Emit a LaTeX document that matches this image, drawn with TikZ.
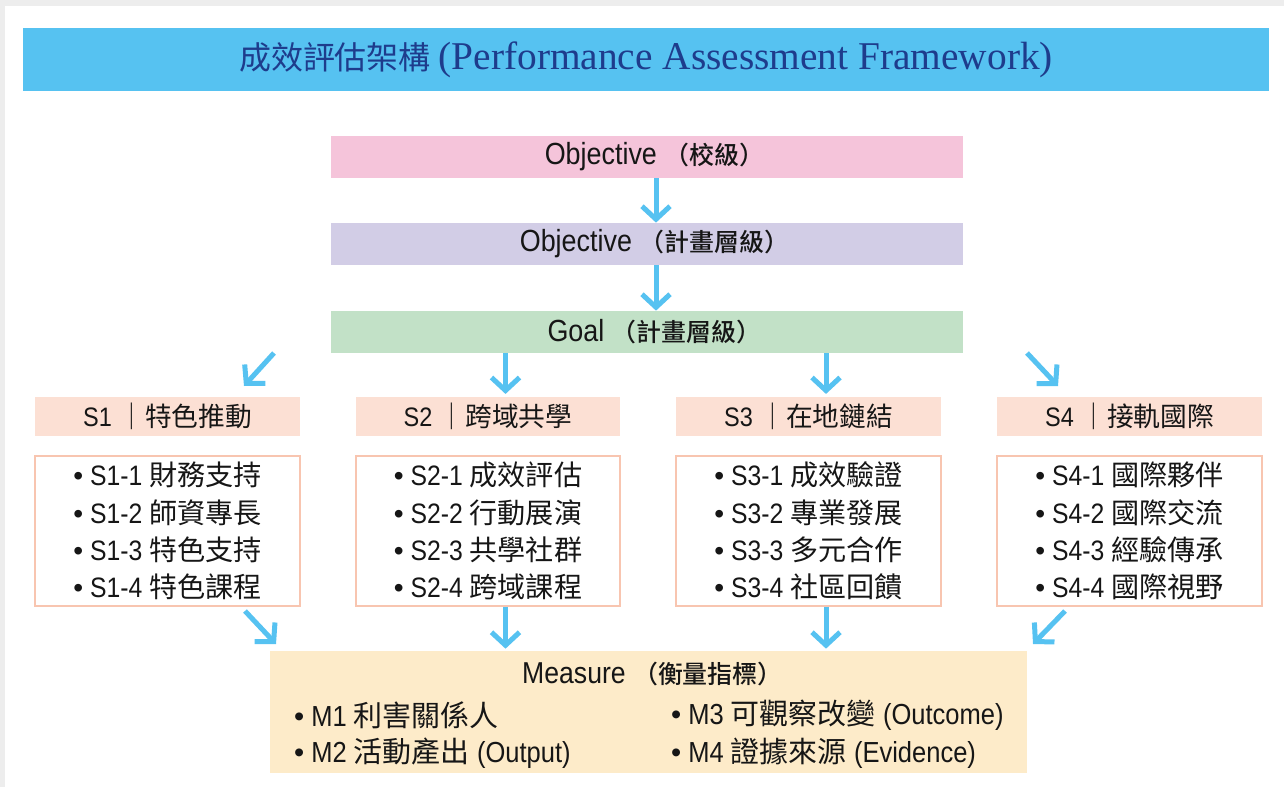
\documentclass[tikz,border=0pt]{standalone}
\usepackage{fontspec}
\setmainfont{Liberation Sans}[FakeStretch=0.88]
\newfontfamily\cjk{Noto Sans CJK TC}
\newfontfamily\cjkmed{Noto Sans CJK TC Medium}
\newfontfamily\titlefont{Liberation Serif}
\newfontfamily\bulletfont{Liberation Sans}
\newcommand{\zh}[1]{{\cjk #1}}
\newcommand{\zhm}[1]{{\cjkmed\fontsize{14.2}{16}\selectfont #1}}
\newcommand{\bul}{{\bulletfont •}}
\usetikzlibrary{arrows.meta}
\definecolor{skyblue}{HTML}{56C2F1}
\definecolor{navy}{HTML}{1E3C8C}
\definecolor{pinkfill}{HTML}{F5C4DA}
\definecolor{lilac}{HTML}{D2CDE6}
\definecolor{mint}{HTML}{C2E1C7}
\definecolor{peach}{HTML}{FCE0D4}
\definecolor{peachline}{HTML}{F8C5B0}
\definecolor{sand}{HTML}{FDEBC9}
\definecolor{ink}{HTML}{161616}
\tikzset{
  titlebar/.style={fill=skyblue, minimum width=24.92cm, minimum height=1.26cm, text=navy, font=\fontsize{18.2}{22}\selectfont},
  tier/.style={minimum width=12.64cm, minimum height=0.84cm, text=ink, font=\fontsize{17.4}{20}\selectfont},
  head/.style={fill=peach, minimum width=5.3cm, minimum height=0.7cm, text=ink, font=\fontsize{15.2}{18}\selectfont},
  list/.style={draw=peachline, line width=0.04cm, fill=white, minimum width=5.3cm, minimum height=2.96cm, align=left, text=ink, font=\fontsize{16}{21.2}\selectfont},
  measurebox/.style={fill=sand, minimum width=15.14cm, minimum height=2.44cm},
  item/.style={anchor=west, text=ink, font=\fontsize{16.5}{18}\selectfont},
  flow/.style={draw=skyblue, line width=0.1cm, -{Straight Barb[length=0.26cm,width=0.56cm]}}
}
\begin{document}
\begin{tikzpicture}[x=0.02cm,y=-0.02cm]
\useasboundingbox (0,0) rectangle (1284,787);
\fill[black!7] (0,0) rectangle (1284,787);
\fill[white] (5,6) rectangle (1284,787);

\node[titlebar] (title) at (646,59.5) {\zh{成效評估架構} {\titlefont\fontsize{22.4}{26}\selectfont (Performance Assessment Framework)}};

\node[tier, fill=pinkfill] (obj) at (647,157) {\hspace{0.3cm}Objective \zhm{（校級）}};
\node[tier, fill=lilac] (plan) at (647,244) {\hspace{0.3cm}Objective \zhm{（計畫層級）}};
\node[tier, fill=mint] (goal) at (647,332) {\hspace{0.3cm}Goal \zhm{（計畫層級）}};

\node[head] (s1) at (167.5,416.5) {S1 \zh{｜特色推動}};
\node[head] (s2) at (488,416.5) {S2 \zh{｜跨域共學}};
\node[head] (s3) at (808.5,416.5) {S3 \zh{｜在地鏈結}};
\node[head] (s4) at (1129.5,416.5) {S4 \zh{｜接軌國際}};

\node[list] (l1) at (167.5,531) {\bul{} S1-1 \zh{財務支持}\\\bul{} S1-2 \zh{師資專長}\\\bul{} S1-3 \zh{特色支持}\\\bul{} S1-4 \zh{特色課程}};
\node[list] (l2) at (488,531) {\bul{} S2-1 \zh{成效評估}\\\bul{} S2-2 \zh{行動展演}\\\bul{} S2-3 \zh{共學社群}\\\bul{} S2-4 \zh{跨域課程}};
\node[list] (l3) at (808.5,531) {\bul{} S3-1 \zh{成效驗證}\\\bul{} S3-2 \zh{專業發展}\\\bul{} S3-3 \zh{多元合作}\\\bul{} S3-4 \zh{社區回饋}};
\node[list] (l4) at (1129.5,531) {\bul{} S4-1 \zh{國際夥伴}\\\bul{} S4-2 \zh{國際交流}\\\bul{} S4-3 \zh{經驗傳承}\\\bul{} S4-4 \zh{國際視野}};

\node[measurebox] (meas) at (648.5,712) {};
\node[text=ink, font=\fontsize{17.2}{20}\selectfont] (mtitle) at (647,674) {\hspace{0.22cm}Measure \zhm{（衡量指標）}};
\node[item] (m1) at (288,715) {\bul{} M1 \zh{利害關係人}};
\node[item] (m2) at (288,753) {\bul{} M2 \zh{活動產出} (Output)};
\node[item] (m3) at (665,715) {\bul{} M3 \zh{可觀察改變} (Outcome)};
\node[item] (m4) at (665,753) {\bul{} M4 \zh{證據來源} (Evidence)};

% arrows down the middle
\draw[flow] ([xshift=0.18cm]obj.south) -- ([xshift=0.18cm]plan.north);
\draw[flow] ([xshift=0.18cm]plan.south) -- ([xshift=0.18cm]goal.north);

% goal to strategies
\coordinate (s2in) at ([xshift=0.35cm]s2.north);
\coordinate (s3in) at ([xshift=0.35cm]s3.north);
\coordinate (d1a) at (274,353);
\coordinate (d1b) at (244,386);
\coordinate (d4a) at (1027,353);
\coordinate (d4b) at (1058,386);
\draw[flow] (d1a) -- (d1b);
\draw[flow, shorten >=0.06cm] (goal.south -| s2in) -- (s2in);
\draw[flow, shorten >=0.06cm] (goal.south -| s3in) -- (s3in);
\draw[flow] (d4a) -- (d4b);

% strategies to measure
\coordinate (s2out) at ([xshift=0.35cm]l2.south);
\coordinate (s3out) at ([xshift=0.35cm]l3.south);
\coordinate (e1a) at (245,611);
\coordinate (e1b) at (276,644);
\coordinate (e4a) at (1065,611);
\coordinate (e4b) at (1033,644);
\draw[flow] (e1a) -- (e1b);
\draw[flow, shorten >=0.04cm] (s2out) -- (s2out |- meas.north);
\draw[flow, shorten >=0.04cm] (s3out) -- (s3out |- meas.north);
\draw[flow] (e4a) -- (e4b);
\end{tikzpicture}
\end{document}
